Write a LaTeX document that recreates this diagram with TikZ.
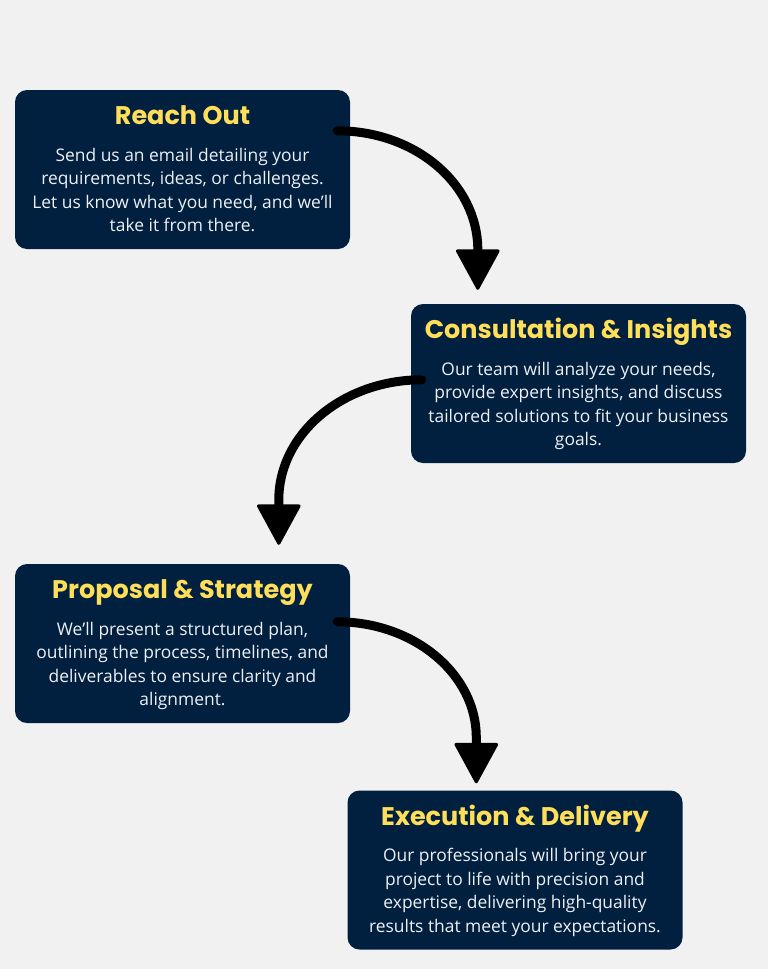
\documentclass[tikz,border=0pt]{standalone}
\usepackage{fontspec}
\setmainfont{Open Sans}
\newfontfamily\headfont{Poppins}
\usetikzlibrary{calc}
\usetikzlibrary{positioning}
\usetikzlibrary{arrows.meta}
\definecolor{navy}{HTML}{01203F}
\definecolor{gold}{HTML}{FFDE59}
\definecolor{paper}{HTML}{F1F1F1}
\definecolor{bodytext}{HTML}{EEF0F3}
\begin{document}
\begin{tikzpicture}[x=1pt,y=-1pt]
  \tikzstyle{card}=[rectangle,rounded corners=12pt,fill=navy,draw=none, minimum width=335pt, minimum height=159pt, inner sep=0pt ]
  \tikzstyle{cardtitle}=[anchor=base, inner sep=0pt, text=gold, font=\headfont\bfseries\fontsize{25.5}{30}\selectfont ]
  \tikzstyle{cardtext}=[anchor=north, inner sep=0pt, align=center, text=bodytext, font=\fontsize{17.4}{23.5}\selectfont ]
  \tikzstyle{flow}=[line width=9pt, line cap=round, -{Triangle[length=42pt,width=45pt,round,line width=3pt]} ]

  \useasboundingbox[fill=paper] (0,0) rectangle (768,969);

  \node[card] at (182.5,169.5) (reach)   {};
  \node[card] at (578.5,383.5) (consult) {};
  \node[card] at (182.5,643.5) (propose) {};
  \node[card] at (515.0,870.0) (deliver) {};

  \node[cardtitle] at ($(reach.north)+(0,35)$) (reachT) {Reach Out};
  \node[cardtext]  at ($(reach.north)+(0,55)$) (reachB)
    {\strut Send us an email detailing your\\requirements, ideas, or challenges.\\Let us know what you need, and we’ll\\take it from there.};

  \node[cardtitle] at ($(consult.north)+(0,35)$) (consultT) {Consultation \& Insights};
  \node[cardtext]  at ($(consult.north)+(0,55)$) (consultB)
    {\strut Our team will analyze your needs,\\provide expert insights, and discuss\\tailored solutions to fit your business\\goals.};

  \node[cardtitle] at ($(propose.north)+(0,35)$) (proposeT) {Proposal \& Strategy};
  \node[cardtext]  at ($(propose.north)+(0,55)$) (proposeB)
    {\strut We’ll present a structured plan,\\outlining the process, timelines, and\\deliverables to ensure clarity and\\alignment.};

  \node[cardtitle] at ($(deliver.north)+(0,35)$) (deliverT) {Execution \& Delivery};
  \node[cardtext]  at ($(deliver.north)+(0,55)$) (deliverB)
    {\strut Our professionals will bring your\\project to life with precision and\\expertise, delivering high-quality\\results that meet your expectations.};

  % curved arrows between the steps
  \coordinate (a1s) at ($(reach.north east)+(-13,41)$);
  \coordinate (a1e) at ($(consult.north west)+(67,-14)$);
  \coordinate (a2s) at ($(consult.north west)+(11,76)$);
  \coordinate (a2e) at ($(propose.north west)+(264,-19)$);
  \coordinate (a3s) at ($(propose.north east)+(-13,58)$);
  \coordinate (a3e) at ($(deliver.north west)+(129,-7)$);

  \draw[flow] (a1s) .. controls +(78,0) and +(0,-66) .. ($(a1e)+(0,-40)$) -- (a1e);
  \draw[flow] (a2s) .. controls +(-79,0) and +(0,-66) .. ($(a2e)+(0,-45)$) -- (a2e);
  \draw[flow] (a3s) .. controls +(77,0) and +(0,-63) .. ($(a3e)+(0,-46)$) -- (a3e);
\end{tikzpicture}
\end{document}
